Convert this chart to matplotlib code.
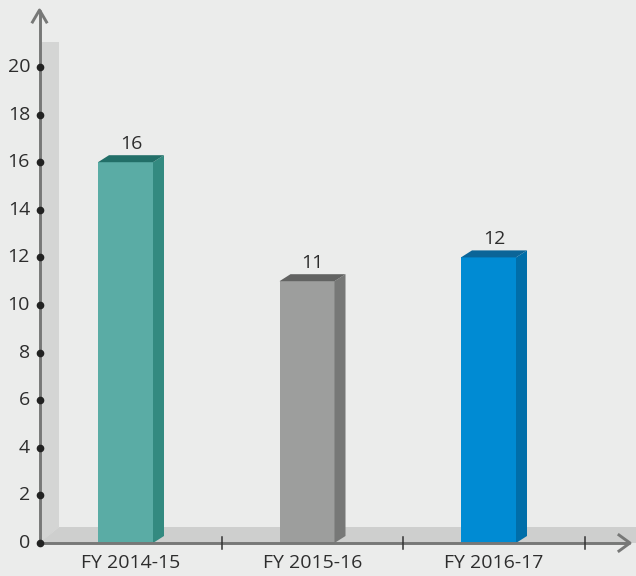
import matplotlib
matplotlib.use("Agg")
import matplotlib.pyplot as plt
from matplotlib.patches import Polygon

categories = ["FY 2014-15", "FY 2015-16", "FY 2016-17"]
values = [16, 11, 12]
yticks = [0, 2, 4, 6, 8, 10, 12, 14, 16, 18, 20]
front_colors = ["#5aaca5", "#9d9e9d", "#008bd3"]
side_colors = ["#338a80", "#777877", "#006ea9"]
top_colors = ["#226f68", "#626362", "#0b6598"]

plt.rcParams['font.family'] = ['Open Sans', 'DejaVu Sans']

W, H = 636, 576
fig = plt.figure(figsize=(W / 100, H / 100), dpi=100)
bg = "#ebeceb"
fig.patch.set_facecolor(bg)
ax = fig.add_axes([0, 0, 1, 1])
ax.set_facecolor(bg)
ax.set_axis_off()

# pixel mapping
px_unit_x = 181.5
px_unit_y = 23.8
x0_px = 131
y0_px = 543
ax.set_xlim(-x0_px / px_unit_x, (W - x0_px) / px_unit_x)
ax.set_ylim(-(H - y0_px) / px_unit_y, y0_px / px_unit_y)

def px(dx):
    return dx / px_unit_x

def py(dy):
    return dy / px_unit_y

axis_x = px(39.5 - x0_px)
wall_in = px(59 - x0_px)
wall_top = py(543 - 42)
floor_y = py(543 - 527)
right_edge = px(W - x0_px)

# wall and floor
ax.add_patch(Polygon([(axis_x, 0), (axis_x, wall_top), (wall_in, wall_top),
                      (wall_in, floor_y)], closed=True, facecolor="#d4d5d4",
                     edgecolor="none", zorder=1))
ax.add_patch(Polygon([(axis_x, 0), (wall_in, floor_y), (right_edge, floor_y),
                      (right_edge, 0)], closed=True, facecolor="#cecfce",
                     edgecolor="none", zorder=1))

# bars
bw = px(55)
ddx = px(11)
ddy = py(7)
xs = list(range(len(categories)))
lefts = [x - (bw + ddx) / 2 for x in xs]
ax.bar(lefts, values, width=bw, align='edge', color=front_colors,
       edgecolor="none", zorder=3)
for x, l, v, sc, tc in zip(xs, lefts, values, side_colors, top_colors):
    r = l + bw
    ax.add_patch(Polygon([(r, 0), (r + ddx, ddy), (r + ddx, v + ddy), (r, v)],
                         closed=True, facecolor=sc, edgecolor="none", zorder=3))
    ax.add_patch(Polygon([(l, v), (l + ddx, v + ddy), (r + ddx, v + ddy), (r, v)],
                         closed=True, facecolor=tc, edgecolor="none", zorder=3))
    ax.text(x, v + ddy + py(6), str(v), ha='center', va='baseline',
            fontsize=14, color="#2d2d2d", zorder=5)

# axes lines
axis_col = "#777877"
ytop = py(543 - 10)
ax.plot([axis_x, axis_x], [0, ytop], color=axis_col, lw=2.1, zorder=4,
        solid_capstyle='butt')
ax.plot([axis_x - px(7), axis_x, axis_x + px(7)],
        [ytop - py(12), ytop, ytop - py(12)], color=axis_col, lw=2.1, zorder=4)
xend = px(630 - x0_px)
ax.plot([axis_x, xend], [0, 0], color=axis_col, lw=2.1, zorder=4,
        solid_capstyle='butt')
ax.plot([xend - px(11), xend, xend - px(11)], [py(8), 0, -py(8)],
        color=axis_col, lw=2.1, zorder=4)

# x tick marks at category boundaries
for b in [0.5, 1.5, 2.5]:
    ax.plot([b, b], [-py(6), py(6)], color="#333333", lw=1.1, zorder=4)

# y ticks dots and labels
ax.plot([axis_x] * len(yticks), yticks, 'o', color="#222222", markersize=4.5,
        zorder=5)
for t in yticks:
    ax.text(px(30 - x0_px), t, str(t), ha='right', va='center', fontsize=14,
            color="#2d2d2d")

for x, c in zip(xs, categories):
    ax.text(x, -py(20), c, ha='center', va='center', fontsize=14,
            color="#2d2d2d")

fig.savefig("out.png", dpi=100, facecolor=bg)
